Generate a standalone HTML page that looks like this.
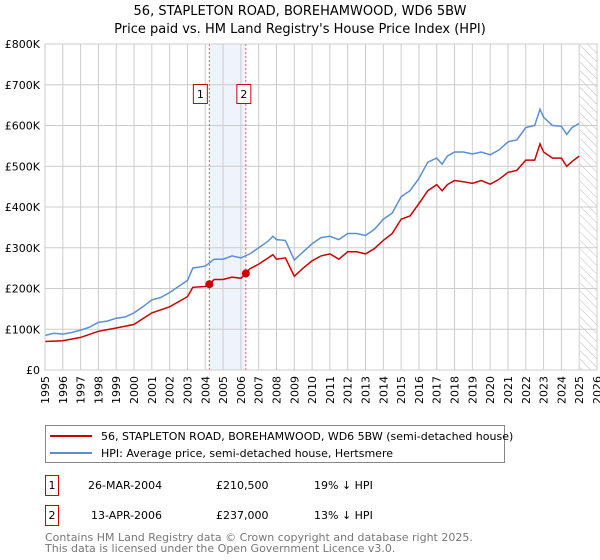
<!DOCTYPE html>
<html><head><meta charset="utf-8"><style>
body{margin:0;background:#fff;font-family:"Liberation Sans","DejaVu Sans",sans-serif;}
</style></head><body>
<svg width="600" height="560" xmlns="http://www.w3.org/2000/svg" style="display:block" font-family="'DejaVu Sans','Liberation Sans',sans-serif">
<defs><pattern id="hatch" width="6" height="6" patternUnits="userSpaceOnUse" patternTransform="rotate(-45)"><line x1="0" y1="0" x2="0" y2="6" stroke="#bbb" stroke-width="1"/></pattern></defs>
<text x="300" y="15" text-anchor="middle" font-size="13">56, STAPLETON ROAD, BOREHAMWOOD, WD6 5BW</text>
<text x="300" y="33" text-anchor="middle" font-size="13">Price paid vs. HM Land Registry's House Price Index (HPI)</text>
<g id="plot"></g>
<g>
<rect x="45.5" y="425.5" width="459" height="37" fill="#fff" stroke="#888"/>
<line x1="50" y1="436" x2="92" y2="436" stroke="#cc0000" stroke-width="2"/>
<text x="101" y="440" font-size="11">56, STAPLETON ROAD, BOREHAMWOOD, WD6 5BW (semi-detached house)</text>
<line x1="50" y1="453" x2="92" y2="453" stroke="#5b8fd4" stroke-width="2"/>
<text x="101" y="457" font-size="11">HPI: Average price, semi-detached house, Hertsmere</text>
</g>
<g font-size="11">
<rect x="45.5" y="475.5" width="13" height="20" fill="#fff" stroke="#cc0000"/><text x="52" y="489" text-anchor="middle">1</text>
<text x="88" y="489">26-MAR-2004</text><text x="216" y="489">£210,500</text><text x="314" y="489">19% ↓ HPI</text>
<rect x="45.5" y="505.5" width="13" height="20" fill="#fff" stroke="#cc0000"/><text x="52" y="519" text-anchor="middle">2</text>
<text x="91" y="519">13-APR-2006</text><text x="216" y="519">£237,000</text><text x="314" y="519">13% ↓ HPI</text>
</g>
<g font-size="11" fill="#777">
<text x="45" y="541">Contains HM Land Registry data © Crown copyright and database right 2025.</text>
<text x="45" y="552">This data is licensed under the Open Government Licence v3.0.</text>
</g>
</svg>
<script>
const yTicks=[0,100,200,300,400,500,600,700,800];
const yTickLabels=["£0","£100K","£200K","£300K","£400K","£500K","£600K","£700K","£800K"];
const xYears=[1995,1996,1997,1998,1999,2000,2001,2002,2003,2004,2005,2006,2007,2008,2009,2010,2011,2012,2013,2014,2015,2016,2017,2018,2019,2020,2021,2022,2023,2024,2025,2026];
const hpiT=[1995,1995.5,1996,1996.5,1997,1997.5,1998,1998.5,1999,1999.5,2000,2000.5,2001,2001.5,2002,2002.5,2003,2003.3,2003.6,2004,2004.5,2005,2005.5,2006,2006.5,2007,2007.5,2007.8,2008,2008.5,2009,2009.5,2010,2010.5,2011,2011.5,2012,2012.5,2013,2013.5,2014,2014.5,2015,2015.5,2016,2016.5,2017,2017.3,2017.6,2018,2018.5,2019,2019.5,2020,2020.5,2021,2021.5,2022,2022.5,2022.8,2023,2023.5,2024,2024.3,2024.6,2025];
const hpiV=[85,90,88,92,98,105,117,120,127,130,140,155,172,178,190,205,220,250,252,255,272,272,280,275,285,300,315,328,320,318,270,290,310,325,328,320,335,335,330,345,370,385,425,440,470,510,520,505,525,535,535,530,535,528,540,560,565,595,600,640,620,600,598,578,595,605];
const redT=[1995,1996,1997,1998,1999,2000,2001,2002,2003,2003.3,2004,2004.23,2004.5,2005,2005.5,2006,2006.28,2006.5,2007,2007.8,2008,2008.5,2009,2009.5,2010,2010.5,2011,2011.5,2012,2012.5,2013,2013.5,2014,2014.5,2015,2015.5,2016,2016.5,2017,2017.3,2017.6,2018,2018.5,2019,2019.5,2020,2020.5,2021,2021.5,2022,2022.5,2022.8,2023,2023.5,2024,2024.3,2024.6,2025];
const redV=[70,72,80,95,103,112,140,155,180,203,205,210.5,222,222,228,225,237,248,260,283,272,275,230,250,268,280,285,272,290,290,285,298,318,335,370,378,408,440,455,440,455,465,462,458,465,456,468,485,490,515,515,555,535,520,520,500,512,525];
const saleT=[2004.23,2006.28];
const saleV=[210.5,237];
const saleLabels=["1","2"];
const X0=45,X1=597,Y0=370,Y1=44;
const xs=t=>X0+(t-1995)/31*(X1-X0);
const ys=v=>Y0-v/800*(Y0-Y1);
const NS="http://www.w3.org/2000/svg";
const g=document.getElementById('plot');
function mk(tag,attrs,parent){const e=document.createElementNS(NS,tag);for(const k in attrs)e.setAttribute(k,attrs[k]);(parent||g).appendChild(e);return e;}
// shading
const sh=mk('rect',{x:xs(saleT[0]),y:Y1,width:xs(saleT[1])-xs(saleT[0]),height:Y0-Y1,fill:'#eef3fc'});


const ht=mk('rect',{x:xs(2025.05),y:Y1,width:X1-xs(2025.05),height:Y0-Y1,fill:'url(#hatch)'});


yTicks.forEach((v,i)=>{
 const l=mk('line',{x1:X0,x2:X1,y1:ys(v),y2:ys(v),stroke:'#ccc','stroke-width':1});
 
 
 const t=mk('text',{x:X0-5,y:ys(v)+4,'text-anchor':'end','font-size':11});
 
 
 t.textContent=yTickLabels[i];
});
xYears.forEach(yr=>{
 const l=mk('line',{x1:xs(yr),x2:xs(yr),y1:Y1,y2:Y0,stroke:'#ccc','stroke-width':1});
 
 
 const t=mk('text',{x:0,y:0,'text-anchor':'end','font-size':11,transform:`translate(${xs(yr)+4},${Y0+6}) rotate(-90)`});
 
 
 t.textContent=yr;
});
saleT.forEach((t,i)=>{
 const l=mk('line',{x1:xs(t),x2:xs(t),y1:Y1,y2:Y0,stroke:'#e06060','stroke-width':1,'stroke-dasharray':'2,2'});
 
 
});
function path(T,V,color,name){
 const d=T.map((t,i)=>(i?'L':'M')+xs(t).toFixed(1)+','+ys(V[i]).toFixed(1)).join('');
 const p=mk('path',{d:d,fill:'none',stroke:color,'stroke-width':1.5});
 
 
}
path(hpiT,hpiV,'#5b8fd4','hpi-line');
path(redT,redV,'#cc0000','price-paid-line');
saleT.forEach((t,i)=>{
 const c=mk('circle',{cx:xs(t),cy:ys(saleV[i]),r:4,fill:'#cc0000'});
 
 
 const bx=xs(t)-(i===0?9:2)-7;
 const r=mk('rect',{x:bx,y:84.5,width:14,height:19,fill:'#fff',stroke:'#cc0000'});
 
 
 const tx=mk('text',{x:bx+7,y:98,'text-anchor':'middle','font-size':11});
 
 
 tx.textContent=saleLabels[i];
});
const ax=mk('rect',{x:X0,y:Y1,width:X1-X0,height:Y0-Y1,fill:'none',stroke:'#ccc'});


</script>
</body></html>
